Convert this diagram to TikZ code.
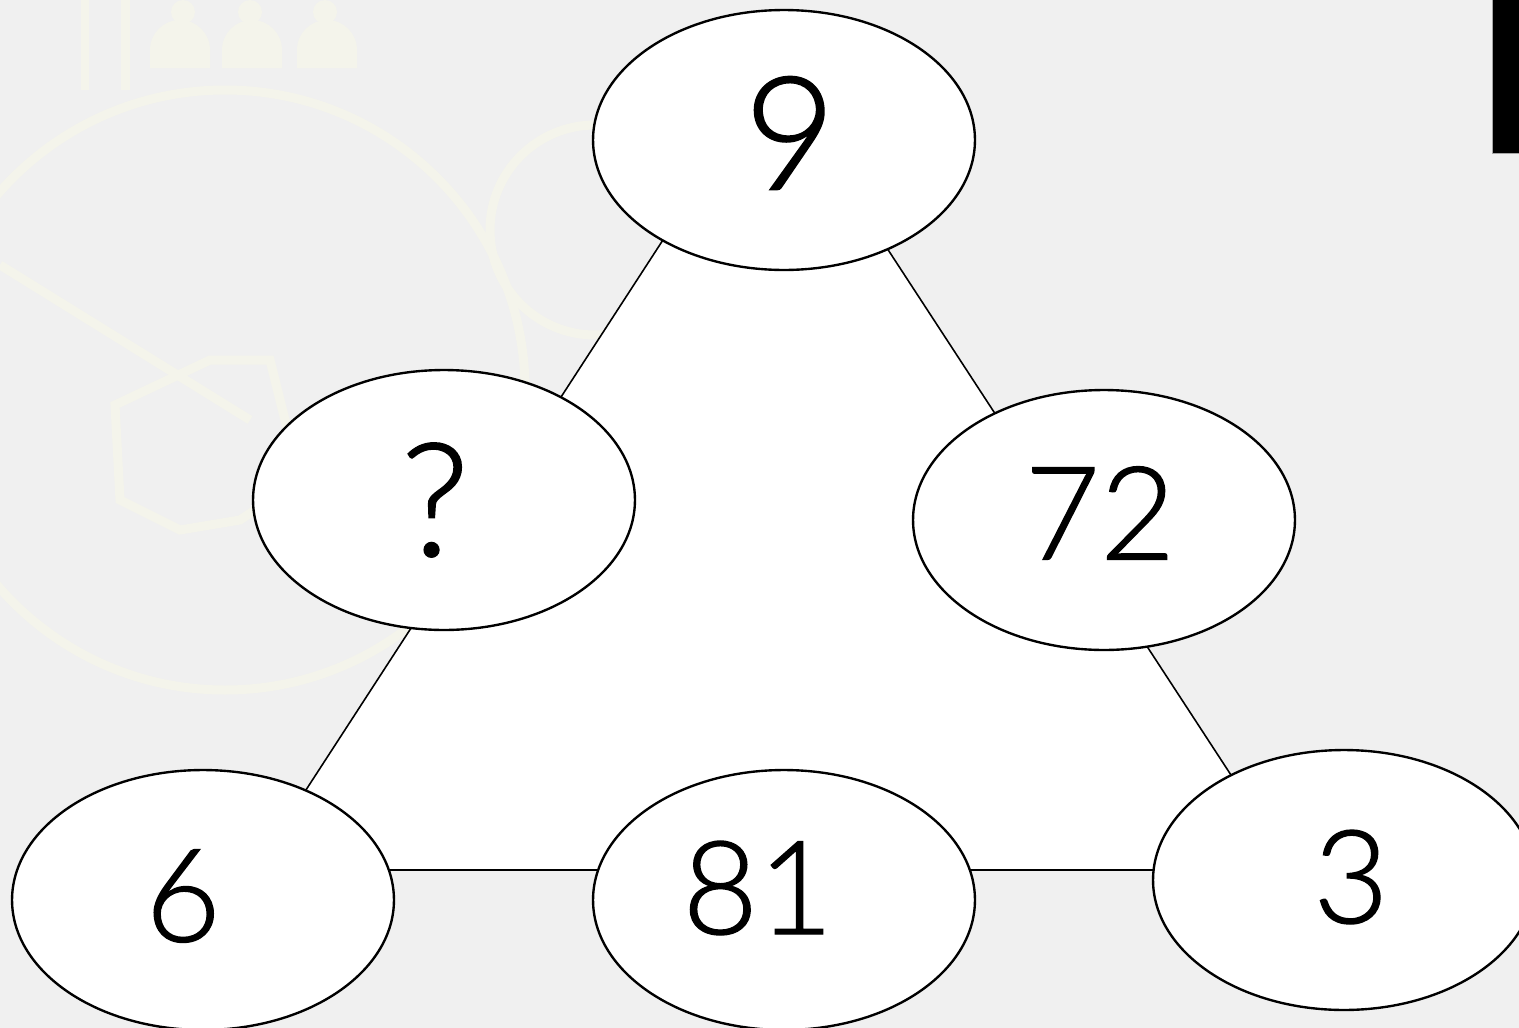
\documentclass[tikz,border=0pt]{standalone}
\usepackage{fontspec}
\usetikzlibrary{shapes.geometric}
\newfontfamily\handfont{Lato Light}[FakeBold=1]
\definecolor{bgcol}{HTML}{F0F0F0}
\definecolor{wmcol}{HTML}{F4F4EB}
\tikzset{
  bubble/.style={ellipse, draw=black, fill=white, line width=1.35pt,
    minimum width=7.64cm, minimum height=5.2cm, inner sep=0pt},
  digit/.style={inner sep=0pt, font=\handfont\fontsize{74}{74}\selectfont},
  bigdigit/.style={inner sep=0pt, font=\handfont\fontsize{90}{90}\selectfont},
  edgeline/.style={draw=black, fill=white, line width=0.9pt},
  watermark/.style={draw=wmcol, line width=0.18cm},
}
\begin{document}
\begin{tikzpicture}[x=0.02cm,y=-0.02cm]
\useasboundingbox (0,0) rectangle (1519,1028);
\fill[bgcol] (0,0) rectangle (1519,1028);
% faint background watermark
\draw[watermark] (225,390) circle[radius=300*0.02cm];
\draw[watermark] (595,230) circle[radius=105*0.02cm];
\draw[watermark] (0,265) -- (250,420);
\draw[watermark] (115,405) -- (210,360) -- (270,360) -- (300,480) -- (240,520) -- (180,530) -- (120,500) -- cycle;
\draw[watermark] (85,0) -- (85,90);
\draw[watermark] (125,0) -- (125,90);
\fill[wmcol] (183,12) circle[radius=12*0.02cm] (250,12) circle[radius=12*0.02cm] (325,12) circle[radius=12*0.02cm];
\fill[wmcol] (150,68) -- (150,50) arc[start angle=180,end angle=0,radius=30*0.02cm] -- (210,68) -- cycle;
\fill[wmcol] (222,68) -- (222,50) arc[start angle=180,end angle=0,radius=30*0.02cm] -- (282,68) -- cycle;
\fill[wmcol] (297,68) -- (297,50) arc[start angle=180,end angle=0,radius=30*0.02cm] -- (357,68) -- cycle;
% black bar top right
\fill[black, draw=gray!70, line width=0.3pt] (1492,-1) rectangle (1520,153);
% triangle
\coordinate (apex) at (772,72);
\coordinate (bl) at (254,870);
\coordinate (br) at (1293,870);
\path[edgeline] (apex) -- (bl) -- (br) -- cycle;
% bubbles
\node[bubble] (top) at (784,140) {};
\node[bubble] (left) at (444,500) {};
\node[bubble] (right) at (1104,520) {};
\node[bubble] (bleft) at (203,900) {};
\node[bubble] (bmid) at (784,900) {};
\node[bubble] (bright) at (1344,880) {};
% numbers
\node[bigdigit] (t9) at (790,133) {9};
\node[bigdigit] (tq) at (435,500) {?};
\node[digit] (t72) at (1100,513) {72};
\node[digit] (t6) at (183,896) {6};
\node[digit] (t81) at (758,888) {81};
\node[digit] (t3) at (1351,877) {3};
\end{tikzpicture}
\end{document}
